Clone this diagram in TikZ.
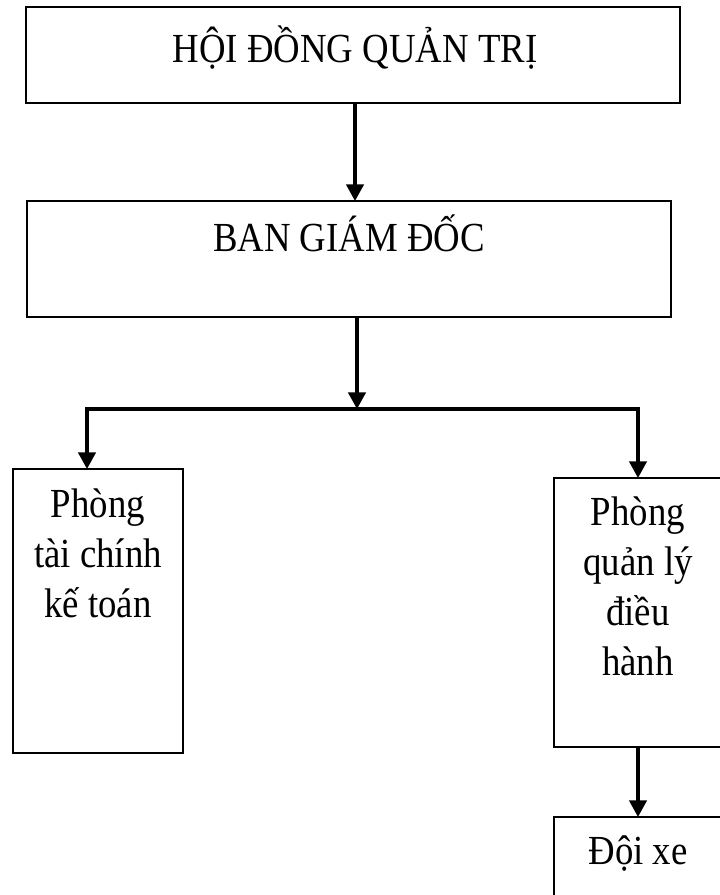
\documentclass[tikz,border=0pt]{standalone}
\usepackage{fontspec}
\setmainfont[FakeStretch=0.89]{Liberation Serif}
\usetikzlibrary{arrows.meta}

\begin{document}
\begin{tikzpicture}[x=0.75pt,y=-0.75pt,
  unitbox/.style={draw=black, line width=1.5pt, rectangle, inner sep=0pt, outer sep=0pt, anchor=north west},
  caption/.style={font=\fontsize{31}{37.5}\selectfont, align=center, anchor=base, inner sep=0pt},
  flow/.style={line width=2.5pt, -{Triangle[length=12.5pt,width=13pt]}},
  split/.style={line width=2.5pt, line join=miter,
    {Triangle[length=12.5pt,width=13pt]}-{Triangle[length=12.5pt,width=13pt]}}]
  \useasboundingbox (0,0) rectangle (720,895);

  % boxes of the organisation chart
  \node[unitbox, minimum width=490.5pt, minimum height=72pt] (hdqt) at (26,7) {};
  \node[unitbox, minimum width=483pt, minimum height=87pt] (bgd) at (27,201) {};
  \node[unitbox, minimum width=127.5pt, minimum height=213pt] (ketoan) at (13,469) {};
  \node[unitbox, minimum width=126pt, minimum height=201.75pt] (dieuhanh) at (554,478) {};
  \node[unitbox, minimum width=126pt, minimum height=66pt] (doixe) at (554,817) {};

  % titles (multi-line captions are placed by the baseline of their last line)
  \node[caption] (t1) at (355,63) {HỘI ĐỒNG QUẢN TRỊ};
  \node[caption] (t2) at (349,251) {BAN GIÁM ĐỐC};
  \node[caption] (t3) at (98,617) {Phòng\\tài chính\\kế toán};
  \node[caption] (t4) at (638,675) {Phòng\\quản lý\\điều\\hành};
  \node[caption] (t5) at (638,864) {Đội xe};

  % connectors
  \coordinate (busL) at (87,409);
  \coordinate (busR) at (638,409);
  \coordinate (busM) at (357,409);
  \draw[flow] (hdqt.south -| 355,0) -- (bgd.north -| 355,0);
  \draw[flow] (bgd.south -| busM) -- (busM);
  \draw[split] (ketoan.north -| busL) -- (busL) -- (busR) -- (dieuhanh.north -| busR);
  \draw[flow] (dieuhanh.south) -- (doixe.north);
\end{tikzpicture}
\end{document}
